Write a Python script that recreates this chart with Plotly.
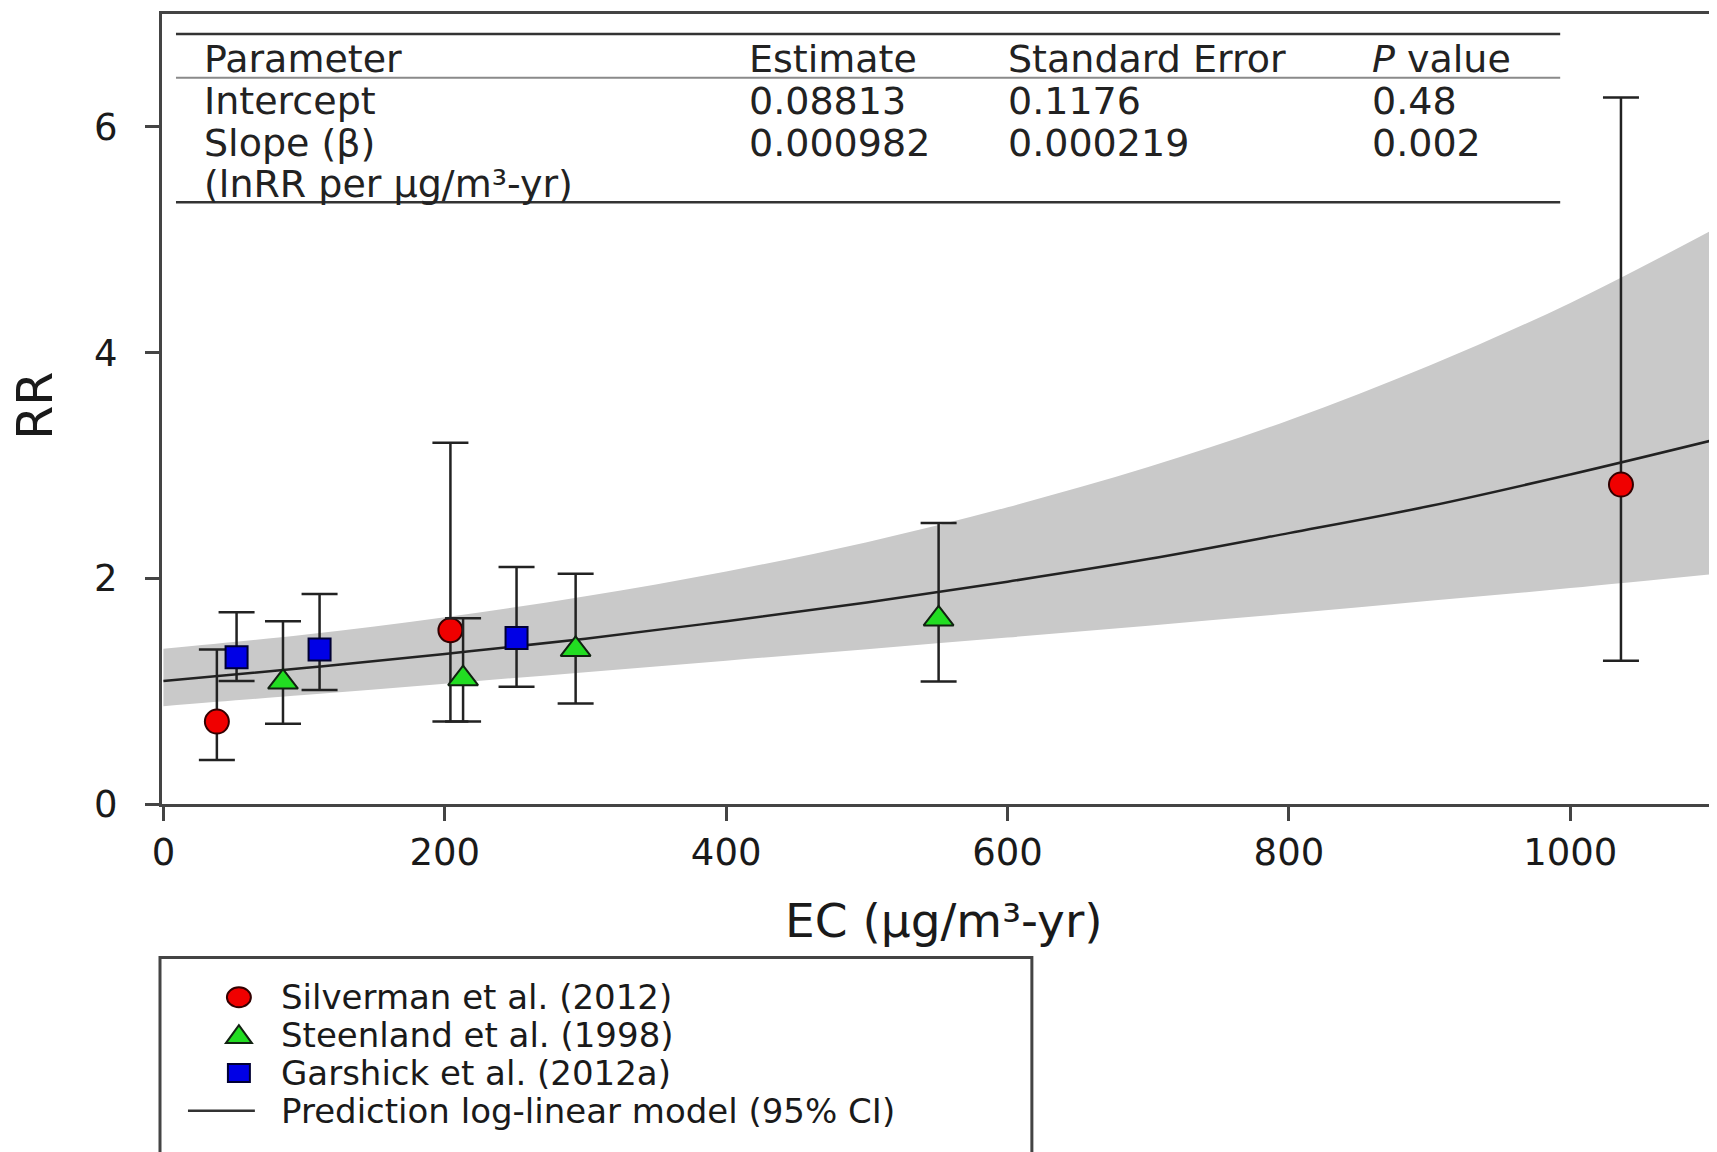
import plotly.graph_objects as go

# ---------------- data ----------------
silverman_x = [38, 204, 1036]
silverman_rr = [0.73, 1.54, 2.83]
silverman_lo = [0.39, 0.73, 1.27]
silverman_hi = [1.37, 3.20, 6.26]

steenland_x = [85, 213, 293, 551]
steenland_rr = [1.08, 1.11, 1.37, 1.64]
steenland_lo = [0.71, 0.73, 0.89, 1.085]
steenland_hi = [1.62, 1.645, 2.04, 2.49]

garshick_x = [52, 111, 251]
garshick_rr = [1.30, 1.37, 1.47]
garshick_lo = [1.09, 1.01, 1.04]
garshick_hi = [1.70, 1.86, 2.10]

pred_x = [0, 100, 200, 300, 400, 500, 600, 700, 800, 900, 1000, 1100]
pred_rr = [1.09, 1.205, 1.33, 1.465, 1.62, 1.785, 1.97, 2.17, 2.40, 2.64, 2.92, 3.22]
pred_upper = [1.375, 1.50, 1.655, 1.84, 2.06, 2.32, 2.63, 2.985, 3.40, 3.885, 4.44, 5.08]
pred_lower = [0.867, 0.966, 1.066, 1.168, 1.27, 1.372, 1.475, 1.58, 1.687, 1.80, 1.913, 2.035]

x_ticks = [0, 200, 400, 600, 800, 1000]
y_ticks = [0, 2, 4, 6]

table_header = ["Parameter", "Estimate", "Standard Error", "<i>P</i> value"]
table_rows = [
    ["Intercept", "0.08813", "0.1176", "0.48"],
    ["Slope (β)", "0.000982", "0.000219", "0.002"],
    ["(lnRR per µg/m³-yr)", "", "", ""],
]

legend_labels = ["Silverman et al. (2012)", "Steenland et al. (1998)",
                 "Garshick et al. (2012a)", "Prediction log-linear model (95% CI)"]

# ---------------- layout geometry (page pixels) ----------------
PAGE_W, PAGE_H = 1717, 1152
OFF = 8                      # default body margin of the html page
W, H = PAGE_W - OFF, PAGE_H - OFF
L, R, T, B = 162, 1713, 11, 804   # plot area in page pixels
FONT = "DejaVu Sans"
AX = "#444444"
INK = "#1a1a1a"


def px(x):
    return (x - L) / (R - L)


def py(y):
    return (B - y) / (B - T)


fig = go.Figure()

# CI band
fig.add_trace(go.Scatter(x=pred_x, y=pred_lower, mode="lines", line=dict(width=0, shape="spline"),
                         hoverinfo="skip", showlegend=False))
fig.add_trace(go.Scatter(x=pred_x, y=pred_upper, mode="lines", line=dict(width=0, shape="spline"),
                         fill="tonexty", fillcolor="#C9C9C9", hoverinfo="skip", showlegend=False))
# prediction line
fig.add_trace(go.Scatter(x=pred_x, y=pred_rr, mode="lines",
                         line=dict(color="#222222", width=2.5, shape="spline"),
                         name=legend_labels[3], showlegend=False))


def err(rr, lo, hi):
    return dict(type="data", symmetric=False,
                array=[h - r for r, h in zip(rr, hi)],
                arrayminus=[r - l for r, l in zip(rr, lo)],
                color="#222222", thickness=2.5, width=18)


fig.add_trace(go.Scatter(x=silverman_x, y=silverman_rr, mode="markers", name=legend_labels[0],
                         error_y=err(silverman_rr, silverman_lo, silverman_hi),
                         marker=dict(symbol="circle", size=24, color="#F00000",
                                     line=dict(color="#330000", width=2)), showlegend=False))
fig.add_trace(go.Scatter(x=steenland_x, y=steenland_rr, mode="markers", name=legend_labels[1],
                         error_y=err(steenland_rr, steenland_lo, steenland_hi),
                         marker=dict(symbol="triangle-up", size=26, color="#22DD22",
                                     line=dict(color="#112211", width=2)), showlegend=False))
fig.add_trace(go.Scatter(x=garshick_x, y=garshick_rr, mode="markers", name=legend_labels[2],
                         error_y=err(garshick_rr, garshick_lo, garshick_hi),
                         marker=dict(symbol="square", size=22, color="#0000E6",
                                     line=dict(color="#000033", width=2)), showlegend=False))

shapes = []
annotations = []

# ---------------- table ----------------
tx0, tx1 = px(176), px(1562)
shapes.append(dict(type="line", xref="paper", yref="paper", x0=tx0, x1=tx1, y0=py(31), y1=py(31),
                   line=dict(color="#333333", width=2.5)))
shapes.append(dict(type="line", xref="paper", yref="paper", x0=tx0, x1=tx1, y0=py(75), y1=py(75),
                   line=dict(color="#8a8a8a", width=2)))
shapes.append(dict(type="line", xref="paper", yref="paper", x0=tx0, x1=tx1, y0=py(200), y1=py(200),
                   line=dict(color="#333333", width=2.5)))

col_x = [202, 748, 1007, 1372]
row_y = [56, 98, 140, 182]
for row, yy in zip([table_header] + table_rows, row_y):
    for txt, xx in zip(row, col_x):
        if txt:
            annotations.append(dict(text=txt, xref="paper", yref="paper", x=px(xx), y=py(yy),
                                    xanchor="left", yanchor="middle", showarrow=False,
                                    font=dict(family=FONT, size=38, color="#222222")))

# ---------------- axis titles ----------------
annotations.append(dict(text="EC (µg/m³-yr)", xref="paper", yref="paper", x=px(945), y=py(921),
                        xanchor="center", yanchor="middle", showarrow=False,
                        font=dict(family=FONT, size=47, color=INK)))
annotations.append(dict(text="RR", xref="paper", yref="paper", x=px(35), y=py(404),
                        xanchor="center", yanchor="middle", showarrow=False, textangle=-90,
                        font=dict(family=FONT, size=49, color=INK)))

# ---------------- legend (drawn manually) ----------------
shapes.append(dict(type="rect", xref="paper", yref="paper", x0=px(160), x1=px(1033),
                   y0=py(1175), y1=py(958), line=dict(color="#444444", width=3), fillcolor="white"))
leg_rows = [998, 1036, 1074, 1112]
sx = 239
# circle
shapes.append(dict(type="circle", xref="paper", yref="paper", x0=px(sx - 12), x1=px(sx + 12),
                   y0=py(leg_rows[0] + 10), y1=py(leg_rows[0] - 10),
                   fillcolor="#F00000", line=dict(color="#330000", width=2)))
# triangle
ty = leg_rows[1]
shapes.append(dict(type="path", xref="paper", yref="paper",
                   path=f"M {px(sx - 13)} {py(ty + 8)} L {px(sx + 13)} {py(ty + 8)} L {px(sx)} {py(ty - 10)} Z",
                   fillcolor="#22DD22", line=dict(color="#112211", width=2)))
# square
shapes.append(dict(type="rect", xref="paper", yref="paper", x0=px(sx - 11), x1=px(sx + 11),
                   y0=py(leg_rows[2] + 9), y1=py(leg_rows[2] - 9),
                   fillcolor="#0000E6", line=dict(color="#000033", width=2)))
# line
shapes.append(dict(type="line", xref="paper", yref="paper", x0=px(188), x1=px(255),
                   y0=py(leg_rows[3]), y1=py(leg_rows[3]), line=dict(color="#333333", width=2.5)))
for lab, yy in zip(legend_labels, leg_rows):
    annotations.append(dict(text=lab, xref="paper", yref="paper", x=px(279), y=py(yy),
                            xanchor="left", yanchor="middle", showarrow=False,
                            font=dict(family=FONT, size=34, color=INK)))

fig.update_layout(
    width=W, height=H, autosize=False,
    margin=dict(l=L - OFF, r=W - (R - OFF), t=T - OFF, b=H - (B - OFF), pad=0),
    paper_bgcolor="white", plot_bgcolor="white",
    font=dict(family=FONT, color=INK),
    showlegend=False,
    shapes=shapes, annotations=annotations,
    xaxis=dict(range=[-1, 1100], tickvals=x_ticks, ticktext=[str(v) for v in x_ticks],
               showgrid=False, zeroline=False, showline=True, linecolor=AX, linewidth=3,
               mirror=True, ticks="outside", ticklen=14, tickwidth=2.5, tickcolor=AX,
               tickfont=dict(family=FONT, size=37, color=INK), ticklabelstandoff=0),
    yaxis=dict(range=[0, 7], tickvals=y_ticks, ticktext=[str(v) for v in y_ticks],
               showgrid=False, zeroline=False, showline=True, linecolor=AX, linewidth=3,
               mirror=True, ticks="outside", ticklen=14, tickwidth=2.5, tickcolor=AX,
               tickfont=dict(family=FONT, size=37, color=INK), ticklabelstandoff=20),
)

fig.write_html("out.html")
